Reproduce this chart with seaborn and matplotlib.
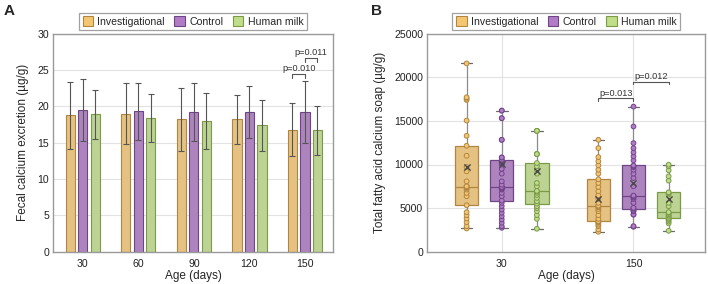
import numpy as np
import pandas as pd
import matplotlib
matplotlib.use("Agg")
import matplotlib.pyplot as plt
from matplotlib.patches import Patch
import seaborn as sns

sns.set_style("white")
plt.rcParams["font.family"] = ["Liberation Sans", "DejaVu Sans"]

groups = ["Investigational", "Control", "Human milk"]
fill_colors = ["#F5C672", "#B17BC6", "#C0DD89"]
edge_colors = ["#B08640", "#704588", "#7A9A48"]

# ---------------- Panel A data: fecal calcium excretion (mean, SD) ----------------
days_a = ["30", "60", "90", "120", "150"]
ca_inv = [18.8, 19.0, 18.2, 18.2, 16.8]
ca_ctrl = [19.5, 19.3, 19.2, 19.2, 19.2]
ca_hm = [18.9, 18.4, 18.0, 17.4, 16.7]
sd_inv = [4.6, 4.2, 4.3, 3.4, 3.6]
sd_ctrl = [4.2, 3.9, 4.0, 3.6, 4.3]
sd_hm = [3.4, 3.3, 3.8, 3.5, 3.4]

# ---------------- Panel B data: total fatty acid calcium soap (individual values) ----------------
days_b = ["30", "150"]
soap_inv_30 = [2665, 2930, 3390, 3810, 4190, 4530, 5330, 6360, 6740, 7120, 7300, 7400, 7460,
               7500, 8070, 9215, 9710, 11000, 12150, 13290, 15040, 17400, 17550, 17710, 21590]
soap_ctrl_30 = [2740, 2930, 3310, 3690, 4070, 4460, 4840, 5220, 5600, 5860, 6360, 6740, 7120,
                7200, 7250, 7300, 7350, 7400, 7425, 7690, 8070, 8950, 9500, 10000, 10100, 10200,
                10300, 10470, 10550, 10810, 10810, 12830, 12830, 15310, 15310, 16180, 16180]
soap_hm_30 = [2630, 3770, 4200, 4650, 5000, 5220, 5520, 5790, 6170, 6500, 6740, 6900, 6970,
              7500, 7880, 8950, 9400, 9790, 10170, 11200, 11200, 11200, 13860, 13860, 13860]
soap_inv_150 = [2285, 2550, 2930, 3100, 3310, 3400, 3450, 3500, 3770, 4190, 4650, 4900, 5100,
                5200, 5290, 5600, 6055, 6470, 6930, 7425, 7880, 8300, 8950, 9400, 9900, 10360,
                10850, 11880, 12830]
soap_ctrl_150 = [2856, 2930, 4260, 4260, 4650, 4650, 4800, 4950, 5030, 5600, 6055, 6200, 6300,
                 6400, 6435, 7500, 8450, 8950, 9400, 9710, 9800, 9900, 10470, 10930, 11390, 11880,
                 12450, 14360, 16640]
soap_hm_150 = [2400, 3250, 3450, 3630, 3770, 3808, 4000, 4150, 4300, 4450, 4530, 5220, 5600,
               6550, 6700, 6816, 8150, 8640, 9330, 9790, 9980]
soap_means_30 = [9710, 10050, 9300]
soap_means_150 = [6055, 7880, 6055]

# p-value annotations
pvals_a = ["p=0.010", "p=0.011"]
pvals_b = ["p=0.013", "p=0.012"]

# ---------------- build tables ----------------
rows = []
for g, means, sds in zip(groups, [ca_inv, ca_ctrl, ca_hm], [sd_inv, sd_ctrl, sd_hm]):
    for d, m, s in zip(days_a, means, sds):
        rows.append({"day": d, "group": g, "mean": m, "sd": s})
df_a = pd.DataFrame(rows)

rows = []
soap = {("30", groups[0]): soap_inv_30, ("30", groups[1]): soap_ctrl_30, ("30", groups[2]): soap_hm_30,
        ("150", groups[0]): soap_inv_150, ("150", groups[1]): soap_ctrl_150, ("150", groups[2]): soap_hm_150}
for (d, g), vals in soap.items():
    for v in vals:
        rows.append({"day": d, "group": g, "value": v})
df_b = pd.DataFrame(rows)

pal = dict(zip(groups, fill_colors))

fig = plt.figure(figsize=(7.08, 2.84), dpi=100)
W, H = 708, 284
axA = fig.add_axes([53.3 / W, 1 - 251.7 / H, (332.7 - 53.3) / W, (251.7 - 33.7) / H])
axB = fig.add_axes([427.3 / W, 1 - 251.7 / H, (705.3 - 427.3) / W, (251.7 - 33.7) / H])

spine_c = "#9a9a9a"
grid_c = "#e2e2e2"
tick_fs = 7.6
label_fs = 8.5

def style_axes(ax):
    for s in ax.spines.values():
        s.set_color(spine_c)
        s.set_linewidth(1.0)
    ax.tick_params(axis="x", length=3, width=0.8, color=spine_c, labelsize=tick_fs, pad=2, labelcolor="#222")
    ax.tick_params(axis="y", length=0, labelsize=tick_fs, pad=3, labelcolor="#222")
    ax.set_axisbelow(True)

# ---------------- Panel A ----------------
sns.barplot(data=df_a, x="day", y="mean", hue="group", order=days_a, hue_order=groups,
            palette=pal, errorbar=None, width=0.675, gap=0.26, linewidth=0.8,
            legend=False, ax=axA)
sd_list = [sd_inv, sd_ctrl, sd_hm]
bar_conts = list(axA.containers)
centers = []
for i, cont in enumerate(bar_conts):
    xs = []
    for bar in cont.patches:
        bar.set_edgecolor(edge_colors[i])
        bar.set_linewidth(0.8)
        xs.append(bar.get_x() + bar.get_width() / 2)
    centers.append(xs)
for i in range(3):
    axA.errorbar(centers[i], [b.get_height() for b in bar_conts[i].patches], yerr=sd_list[i],
                 fmt="none", ecolor="#555555", elinewidth=0.8, capsize=2.2, capthick=0.8, zorder=3)
axA.set_ylim(0, 30)
axA.set_yticks(np.arange(0, 31, 5))
axA.set_xlim(-0.53, 4.5)
axA.yaxis.grid(True, color=grid_c, linewidth=0.8)
axA.xaxis.grid(False)
axA.set_xlabel("Age (days)", fontsize=label_fs, labelpad=1)
axA.set_ylabel("Fecal calcium excretion (µg/g)", fontsize=label_fs, labelpad=6)
style_axes(axA)

def bracket(ax, x1, x2, y, drop, text, fs=6.6):
    ax.plot([x1, x1, x2, x2], [y - drop, y, y, y - drop], color="#555555", lw=0.8, zorder=4)
    ax.text((x1 + x2) / 2, y + drop * 0.2, text, ha="center", va="bottom", fontsize=fs, color="#333")

dA = 30 * 0.018
bracket(axA, centers[0][4], centers[1][4], 24.5, dA, pvals_a[0])
bracket(axA, centers[1][4], centers[2][4], 26.7, dA, pvals_a[1])

handles = [Patch(facecolor=fc, edgecolor=ec, linewidth=0.8) for fc, ec in zip(fill_colors, edge_colors)]

def add_legend(ax):
    leg = ax.legend(handles, groups, loc="lower center", bbox_to_anchor=(0.5, 1.015), ncol=3,
                    frameon=True, fancybox=False, fontsize=7.6, handlelength=1.0, handleheight=1.0,
                    handletextpad=0.4, columnspacing=0.9, borderpad=0.35, borderaxespad=0.0)
    leg.get_frame().set_edgecolor("#8a8a8a")
    leg.get_frame().set_linewidth(0.9)
    return leg

add_legend(axA)

# ---------------- Panel B ----------------
for i, g in enumerate(groups):
    sub = df_b[df_b["group"] == g]
    sns.boxplot(data=sub, x="day", y="value", hue="group", order=days_b, hue_order=groups,
                palette=pal, dodge=True, whis=(0, 100), width=0.8, gap=0.336, showfliers=False,
                linewidth=0.9, linecolor=edge_colors[i],
                whiskerprops=dict(color="#8c8c8c", linewidth=0.9),
                capprops=dict(color="#6a6a6a", linewidth=0.9),
                legend=False, ax=axB)
for i, g in enumerate(groups):
    sub = df_b[df_b["group"] == g]
    sns.stripplot(data=sub, x="day", y="value", hue="group", order=days_b, hue_order=groups,
                  palette=pal, dodge=True, jitter=False, size=3.4, linewidth=0.7,
                  edgecolor=edge_colors[i], legend=False, zorder=5, ax=axB)

offs = [(-1 + i) * 0.8 / 3 for i in range(3)]
for ci, means in enumerate([soap_means_30, soap_means_150]):
    for i, m in enumerate(means):
        axB.scatter([ci + offs[i]], [m], marker="x", s=20, color="#4a4a4a", linewidths=1.0, zorder=6)

axB.set_ylim(0, 25000)
axB.set_yticks(np.arange(0, 25001, 5000))
axB.set_xlim(-0.565, 1.545)
axB.grid(True, color=grid_c, linewidth=0.8)
axB.set_xlabel("Age (days)", fontsize=label_fs, labelpad=1)
axB.set_ylabel("Total fatty acid calcium soap (µg/g)", fontsize=label_fs, labelpad=6)
style_axes(axB)

dB = 25000 * 0.012
bracket(axB, 1 + offs[0], 1 + offs[1], 17590, dB, pvals_b[0])
bracket(axB, 1 + offs[1], 1 + offs[2], 19500, dB, pvals_b[1])
add_legend(axB)

fig.text(4 / W, 1 - 4 / H, "A", fontsize=11, fontweight="bold", ha="left", va="top")
fig.text(371 / W, 1 - 4 / H, "B", fontsize=11, fontweight="bold", ha="left", va="top")

fig.savefig("out.png", dpi=100)
